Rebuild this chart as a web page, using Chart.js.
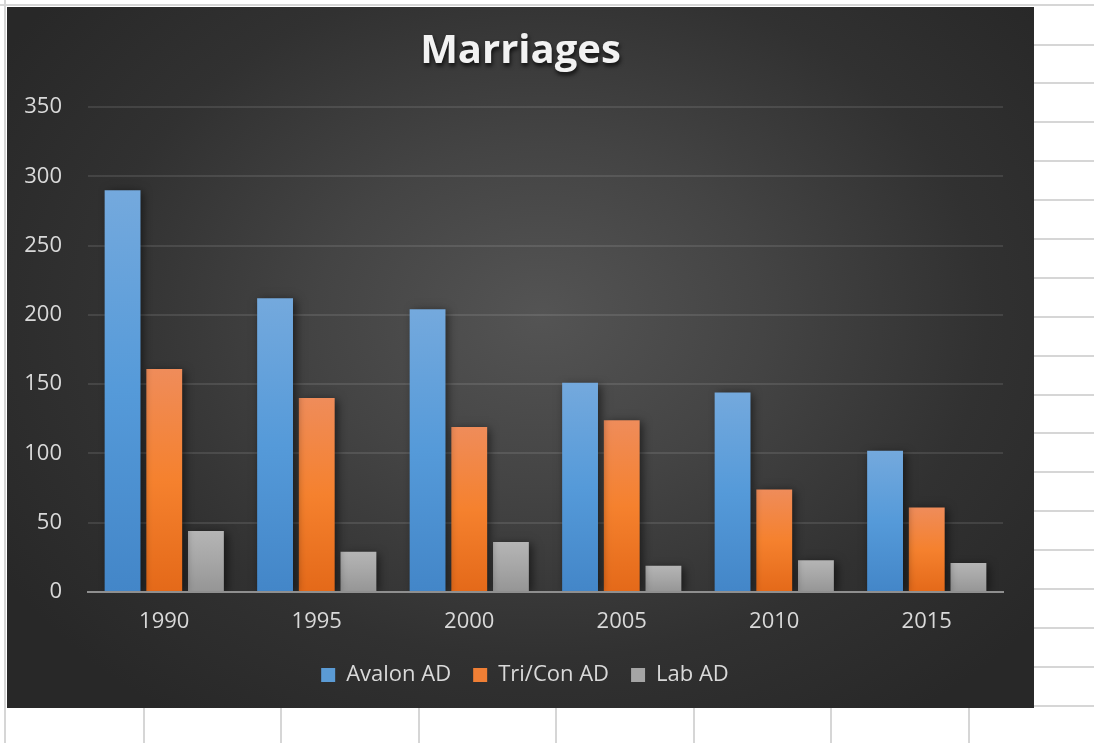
<!DOCTYPE html>
<html>
<head>
<meta charset="utf-8">
<script src="https://cdn.jsdelivr.net/npm/chart.js@4"></script>
<style>
  html, body { margin: 0; padding: 0; background: #fff; }
  body { width: 1094px; height: 743px; position: relative; overflow: hidden; }
  .sheet-right { position: absolute; left: 1034px; top: 0; width: 60px; height: 743px; }
  .sheet-bottom { position: absolute; left: 0; top: 708px; width: 1034px; height: 35px; }
  .vline { position: absolute; top: 0; width: 2px; height: 35px; background: #d6d6d6; }
  .hline { position: absolute; height: 2px; background: #d6d6d6; }
  .frame {
    position: absolute; left: 7px; top: 7px; width: 1027px; height: 701px;
    background: radial-gradient(ellipse 62% 70% at 52% 44%, #545454 0%, #444444 35%, #313131 70%, #282828 100%);
  }
  canvas { position: absolute; left: 0; top: 0; }
</style>
</head>
<body>
<div class="sheet-right" id="sheetRight"></div>
<div class="sheet-bottom" id="sheetBottom"></div>
<div class="hline" style="left:0;top:4px;width:1094px"></div>
<div class="vline" style="left:4px;top:0;height:743px"></div>
<div class="frame">
  <canvas id="chart"></canvas>
</div>
<script>
const years = ["1990", "1995", "2000", "2005", "2010", "2015"];
const avalon = [290, 212, 204, 151, 144, 102];
const triCon = [161, 140, 119, 124, 74, 61];
const lab = [44, 29, 36, 19, 23, 21];
const yTicks = [0, 50, 100, 150, 200, 250, 300, 350];

// spreadsheet cell lines round the chart
const right = document.getElementById("sheetRight");
for (let y = 43.5; y < 743; y += 38.9) {
  const d = document.createElement("div");
  d.className = "hline";
  d.style.left = "0px";
  d.style.width = "60px";
  d.style.top = Math.round(y) + "px";
  right.appendChild(d);
}
const bottom = document.getElementById("sheetBottom");
for (let x = 142.5; x < 1034; x += 137.5) {
  const d = document.createElement("div");
  d.className = "vline";
  d.style.left = Math.round(x) + "px";
  bottom.appendChild(d);
}

function barGradient(top, mid, bot) {
  return function (ctx) {
    const chart = ctx.chart;
    if (ctx.type !== "data" || !chart.chartArea) return mid;
    const yScale = chart.scales.y;
    const yTop = yScale.getPixelForValue(ctx.parsed.y);
    const yBot = yScale.getPixelForValue(0);
    if (!isFinite(yTop) || yBot - yTop < 1) return mid;
    const g = chart.ctx.createLinearGradient(0, yTop, 0, yBot);
    g.addColorStop(0, top);
    g.addColorStop(0.5, mid);
    g.addColorStop(1, bot);
    return g;
  };
}

const titlePlugin = {
  id: "excelTitle",
  afterDraw(chart) {
    const c = chart.ctx;
    c.save();
    c.font = "bold 40px 'Open Sans'";
    c.textAlign = "center";
    c.textBaseline = "alphabetic";
    c.shadowColor = "rgba(0,0,0,0.75)";
    c.shadowBlur = 4;
    c.shadowOffsetX = 1;
    c.shadowOffsetY = 3;
    c.fillStyle = "#f2f2f2";
    c.fillText("Marriages", chart.width / 2, 56);
    c.restore();
  },
};

const shadowPlugin = {
  id: "barShadow",
  beforeDatasetsDraw(chart) {
    const c = chart.ctx;
    c.save();
    c.shadowColor = "rgba(0,0,0,0.55)";
    c.shadowBlur = 9;
    c.shadowOffsetX = 3;
    c.shadowOffsetY = 2;
  },
  afterDatasetsDraw(chart) {
    chart.ctx.restore();
  },
};

// legend sits a little right of the canvas centre in the original
const legendShift = {
  id: "legendShift",
  afterLayout(chart) {
    if (chart.legend) {
      chart.legend.left += 20;
      chart.legend.right += 20;
    }
  },
};

const canvas = document.getElementById("chart");
canvas.width = 1027;
canvas.height = 710;

new Chart(canvas, {
  type: "bar",
  data: {
    labels: years,
    datasets: [
      {
        label: "Avalon AD",
        data: avalon,
        backgroundColor: barGradient("#74a9dd", "#559ad9", "#4386c8"),
      },
      {
        label: "Tri/Con AD",
        data: triCon,
        backgroundColor: barGradient("#ef8c5a", "#f5812e", "#e46919"),
      },
      {
        label: "Lab AD",
        data: lab,
        backgroundColor: barGradient("#b5b5b5", "#a6a6a6", "#959595"),
      },
    ],
  },
  options: {
    responsive: false,
    animation: false,
    categoryPercentage: 0.82,
    barPercentage: 0.86,
    layout: { padding: { top: 100, right: 31, left: 0, bottom: 21 } },
    plugins: {
      title: { display: false },
      tooltip: { enabled: false },
      legend: {
        position: "bottom",
        labels: {
          color: "#d9d9d9",
          boxWidth: 14,
          boxHeight: 14,
          padding: 22,
          font: { family: "'Open Sans'", size: 22 },
          generateLabels(chart) {
            const solid = ["#5b9bd5", "#f07f35", "#a5a5a5"];
            return chart.data.datasets.map((ds, i) => ({
              text: ds.label,
              fillStyle: solid[i],
              strokeStyle: solid[i],
              lineWidth: 0,
              fontColor: "#d9d9d9",
              hidden: false,
              datasetIndex: i,
            }));
          },
        },
      },
    },
    scales: {
      x: {
        grid: { display: false, z: 1 },
        border: { display: true, color: "#8f8f8f", width: 2, z: 1 },
        ticks: {
          color: "#d9d9d9",
          padding: 9,
          font: { family: "'Open Sans'", size: 22 },
        },
        afterFit(scale) {
          scale.height = 50;
        },
      },
      y: {
        min: 0,
        max: 350,
        afterBuildTicks(scale) {
          scale.ticks = yTicks.map((v) => ({ value: v }));
        },
        grid: {
          color: "rgba(255,255,255,0.1)",
          lineWidth: 2,
          drawTicks: false,
        },
        border: { display: false },
        ticks: {
          color: "#d9d9d9",
          padding: 26,
          font: { family: "'Open Sans'", size: 22 },
        },
        afterFit(scale) {
          scale.width = 81;
        },
      },
    },
  },
  plugins: [shadowPlugin, titlePlugin, legendShift],
});
</script>
</body>
</html>
